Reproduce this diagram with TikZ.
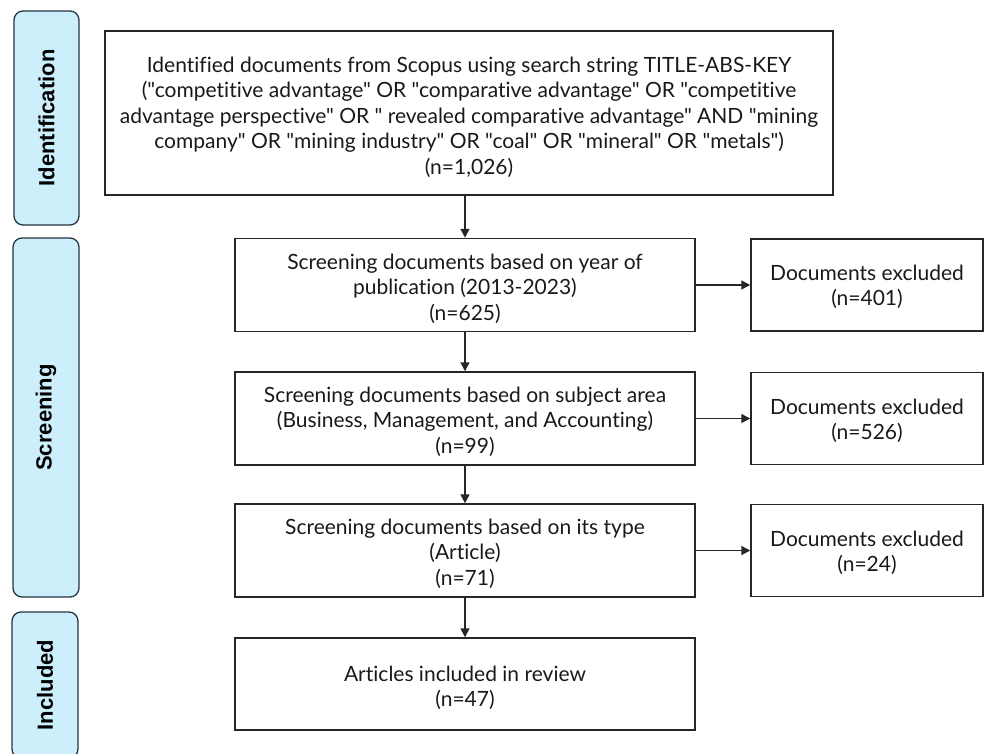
\documentclass[tikz,border=0pt]{standalone}
\usepackage{fontspec}
\setmainfont{Lato}[Ligatures={TeXOff,NoCommon}]
\newfontfamily\sidefont{Liberation Sans}
\usetikzlibrary{arrows.meta}
\definecolor{sidefill}{HTML}{CDEFFC}
\definecolor{sidedraw}{HTML}{23343F}
\definecolor{boxdraw}{HTML}{262626}
\tikzset{
  side/.style={draw=sidedraw, fill=sidefill, line width=1.3pt, rounded corners=9pt, inner sep=0pt},
  sidetext/.style={rotate=90, font=\sidefont\bfseries\fontsize{22}{26}\selectfont, text=black},
  box/.style={draw=boxdraw, line width=1.5pt, inner sep=0pt},
  txt/.style={align=center, inner sep=0pt, font=\fontsize{21}{25.5}\selectfont, text=black!90},
  arr/.style={line width=1.5pt, draw=boxdraw, -{Triangle[length=9pt,width=9pt]}}
}
\begin{document}
\begin{tikzpicture}[x=1pt,y=-1pt]
\useasboundingbox (0,0) rectangle (984,754);
% side bars
\node[side, minimum width=65pt, minimum height=214pt] (sid) at (46.5,118) {};
\node[sidetext] (tid) at (sid.center) {Identification};
\node[side, minimum width=66pt, minimum height=359pt] (sscr) at (46,417.5) {};
\node[sidetext] (tscr) at (sscr.center) {Screening};
\node[side, minimum width=66pt, minimum height=146pt] (sinc) at (45,685) {};
\node[sidetext] (tinc) at (45,685) {Included};
% main boxes
\node[box, minimum width=728pt, minimum height=164pt] (top) at (469,113) {};
\node[txt] (ttop) at (469,117)
 {Identified documents from Scopus using search string TITLE-ABS-KEY\\
 ("competitive advantage" OR "comparative advantage" OR "competitive\\
 advantage perspective" OR " revealed comparative advantage" AND "mining\\
 company" OR "mining industry" OR "coal" OR "mineral" OR "metals")\\
 (n=1,026)};
\node[box, minimum width=460pt, minimum height=93pt] (b1) at (465,285) {};
\node[txt] (tb1) at (465,288.5)
 {Screening documents based on year of\\ publication (2013-2023)\\ (n=625)};
\node[box, minimum width=232pt, minimum height=92pt] (e1) at (867,285) {};
\node[txt] (te1) at (867,287)
 {Documents excluded\\ (n=401)};
\node[box, minimum width=460pt, minimum height=93pt] (b2) at (465,418.5) {};
\node[txt] (tb2) at (465,421.5)
 {Screening documents based on subject area\\ (Business, Management, and Accounting)\\ (n=99)};
\node[box, minimum width=232pt, minimum height=92pt] (e2) at (867,418.5) {};
\node[txt] (te2) at (867,421)
 {Documents excluded\\ (n=526)};
\node[box, minimum width=460pt, minimum height=93pt] (b3) at (465,550.5) {};
\node[txt] (tb3) at (465,553.5)
 {Screening documents based on its type\\ (Article)\\ (n=71)};
\node[box, minimum width=232pt, minimum height=92pt] (e3) at (867,550.5) {};
\node[txt] (te3) at (867,553)
 {Documents excluded\\ (n=24)};
\node[box, minimum width=460pt, minimum height=92pt] (b4) at (465,684) {};
\node[txt] (tb4) at (465,688)
 {Articles included in review\\ (n=47)};
% arrows
\draw[arr] (b1.north |- top.south) -- (b1.north);
\draw[arr] (b1) -- (b2);
\draw[arr] (b2) -- (b3);
\draw[arr] (b3) -- (b4);
\draw[arr] (b1) -- (e1);
\draw[arr] (b2) -- (e2);
\draw[arr] (b3) -- (e3);
\end{tikzpicture}
\end{document}
